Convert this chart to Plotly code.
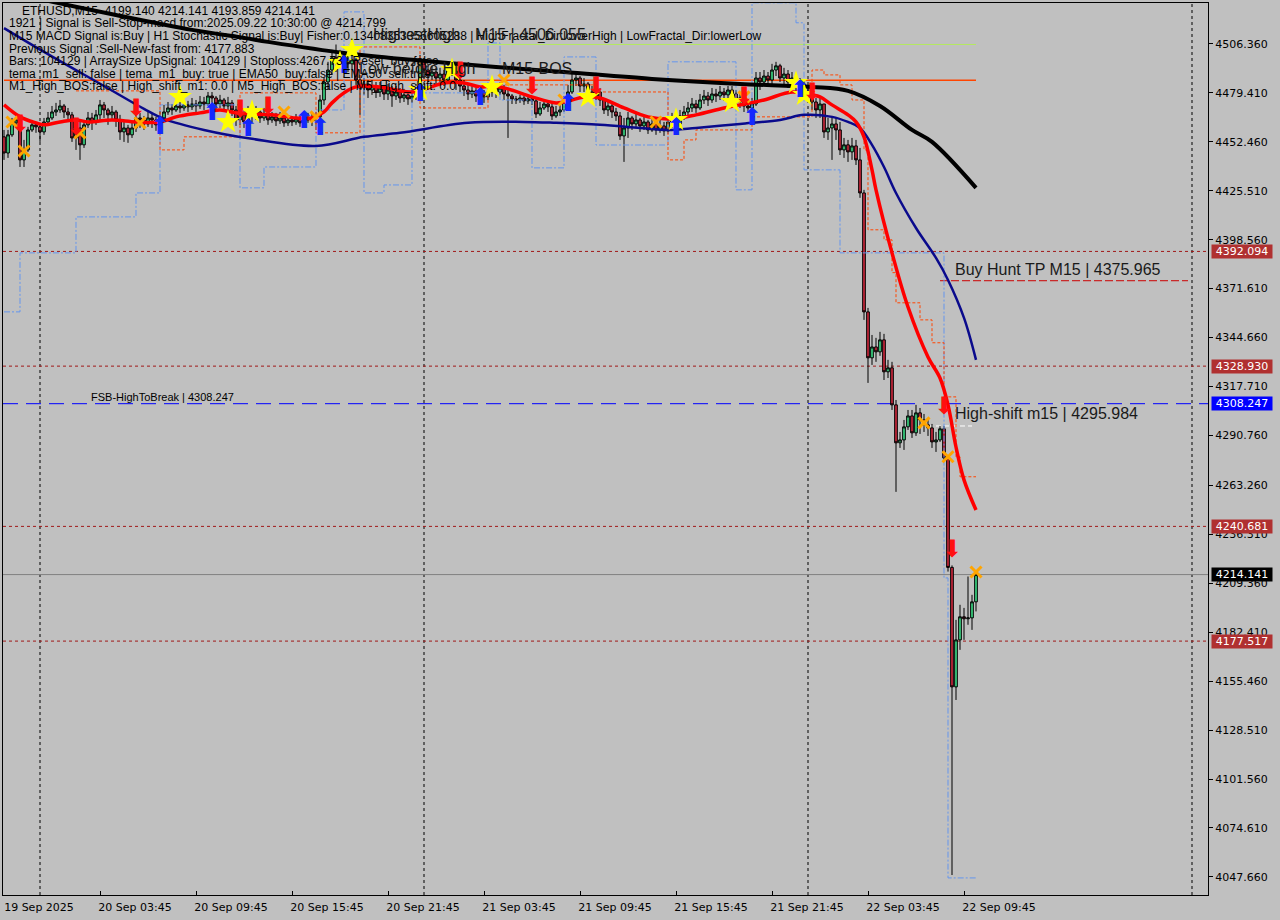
import pandas as pd
import plotly.graph_objects as go

# ---------------- data ----------------
symbol_title = "ETHUSD,M15  4199.140 4214.141 4193.859 4214.141"
t0 = pd.Timestamp("2025-09-19 21:45")
bar = pd.Timedelta(minutes=15)
n_bars = 244
times = [t0 + bar * i for i in range(n_bars)]

first_open = 4455.2
close = [
4446.3, 4456.3, 4462.9, 4464.5, 4442.5, 4448.0, 4459.0, 4461.8, 4460.7, 4457.9,
4463.4, 4465.6, 4468.9, 4470.0, 4472.2, 4468.9, 4467.3, 4454.6, 4460.1, 4450.8,
4461.8, 4465.6, 4463.4, 4467.3, 4472.8, 4470.0, 4467.3, 4468.9, 4464.5, 4457.9,
4460.1, 4456.3, 4460.1, 4465.6, 4464.5, 4462.3, 4465.6, 4464.5, 4461.8, 4465.6,
4468.9, 4471.1, 4470.0, 4472.2, 4471.1, 4472.8, 4471.7, 4473.3, 4472.2, 4474.4,
4473.3, 4477.7, 4476.6, 4473.3, 4475.5, 4472.2, 4473.9, 4470.0, 4464.5, 4467.3,
4463.4, 4468.9, 4466.7, 4468.9, 4465.6, 4467.8, 4464.5, 4466.2, 4464.0, 4465.6,
4462.9, 4464.5, 4463.4, 4465.1, 4462.9, 4464.5, 4465.6, 4464.0, 4466.2, 4475.5,
4485.4, 4492.0, 4498.7, 4496.5, 4499.8, 4497.6, 4495.4, 4497.6, 4486.5, 4482.1,
4484.3, 4481.0, 4483.2, 4479.9, 4482.1, 4478.8, 4481.0, 4477.7, 4479.9, 4476.6,
4478.3, 4476.1, 4477.7, 4481.0, 4497.6, 4492.0, 4488.7, 4490.9, 4487.6, 4489.8,
4486.5, 4492.0, 4494.3, 4486.5, 4483.2, 4481.0, 4478.8, 4480.5, 4477.7, 4479.4,
4477.2, 4479.9, 4482.1, 4479.9, 4482.1, 4478.8, 4477.7, 4476.1, 4475.5, 4476.6,
4475.0, 4476.1, 4475.0, 4467.8, 4471.1, 4473.3, 4471.7, 4466.7, 4468.9, 4470.0,
4474.4, 4479.9, 4486.5, 4487.6, 4483.2, 4484.3, 4479.9, 4477.7, 4479.9, 4475.5,
4470.0, 4472.2, 4468.9, 4466.7, 4455.7, 4460.1, 4465.6, 4462.3, 4464.5, 4461.2,
4463.4, 4459.0, 4462.3, 4459.0, 4461.2, 4458.5, 4463.4, 4464.5, 4462.3, 4466.7,
4468.9, 4471.1, 4473.3, 4471.1, 4475.5, 4477.7, 4475.5, 4478.8, 4477.7, 4479.9,
4478.3, 4481.0, 4478.8, 4474.4, 4476.6, 4472.2, 4471.1, 4473.3, 4487.6, 4485.4,
4488.7, 4486.5, 4492.0, 4494.3, 4487.6, 4489.8, 4485.4, 4487.6, 4483.2, 4484.3,
4479.9, 4477.7, 4474.4, 4470.0, 4473.3, 4457.9, 4460.1, 4462.3, 4459.0, 4448.0,
4450.8, 4446.9, 4450.2, 4442.5, 4424.3, 4358.8, 4333.5, 4339.5, 4336.8, 4343.4,
4325.8, 4328.0, 4307.6, 4286.7, 4288.3, 4295.5, 4301.5, 4292.2, 4303.2, 4299.3,
4296.6, 4294.9, 4287.2, 4288.3, 4294.4, 4278.4, 4218.1, 4152.3, 4178.2, 4190.9,
4189.8, 4190.3, 4199.14, 4214.141,
]
high = [
4459.0, 4459.0, 4465.6, 4466.2, 4464.5, 4453.5, 4460.7, 4464.5, 4463.4, 4461.8,
4465.6, 4468.9, 4472.2, 4473.9, 4475.5, 4473.3, 4471.1, 4468.9, 4464.5, 4463.4,
4464.5, 4468.9, 4468.4, 4470.0, 4475.5, 4474.4, 4471.1, 4472.2, 4470.0, 4467.3,
4464.5, 4461.8, 4463.4, 4468.9, 4468.4, 4466.7, 4468.9, 4467.8, 4466.2, 4469.5,
4472.8, 4474.4, 4473.3, 4475.5, 4474.4, 4475.5, 4475.0, 4476.6, 4475.5, 4477.7,
4477.2, 4479.9, 4479.9, 4477.7, 4478.3, 4476.6, 4477.2, 4475.5, 4472.2, 4471.1,
4470.0, 4472.2, 4471.1, 4472.2, 4470.6, 4471.1, 4470.0, 4468.9, 4468.4, 4468.9,
4467.3, 4466.7, 4466.2, 4467.8, 4466.7, 4467.3, 4468.4, 4467.8, 4468.9, 4478.3,
4487.6, 4496.5, 4503.1, 4506.055, 4503.1, 4502.0, 4500.9, 4502.0, 4498.7, 4489.3,
4487.6, 4486.5, 4486.5, 4485.4, 4485.4, 4483.8, 4484.3, 4483.2, 4483.2, 4482.1,
4481.6, 4479.9, 4481.0, 4484.3, 4500.3, 4498.7, 4494.3, 4494.3, 4493.2, 4493.2,
4492.0, 4495.4, 4496.5, 4495.4, 4490.9, 4486.5, 4483.8, 4483.2, 4482.1, 4482.1,
4481.0, 4483.2, 4485.4, 4484.3, 4485.4, 4483.8, 4482.1, 4478.8, 4477.7, 4478.3,
4477.7, 4478.3, 4477.7, 4476.6, 4474.4, 4475.5, 4475.0, 4473.9, 4472.2, 4472.8,
4477.7, 4483.8, 4489.8, 4490.9, 4488.7, 4487.6, 4485.4, 4483.2, 4483.2, 4482.1,
4476.6, 4475.5, 4473.9, 4471.1, 4468.9, 4465.6, 4468.9, 4466.7, 4467.8, 4465.6,
4466.7, 4464.5, 4465.6, 4464.0, 4464.5, 4463.4, 4466.7, 4468.4, 4466.7, 4470.0,
4472.2, 4474.4, 4476.6, 4475.5, 4478.8, 4481.0, 4479.9, 4482.1, 4481.6, 4483.2,
4482.1, 4483.2, 4483.2, 4481.0, 4479.9, 4478.3, 4475.5, 4476.6, 4490.9, 4490.9,
4492.0, 4490.9, 4495.4, 4496.5, 4495.4, 4493.2, 4492.0, 4490.9, 4489.8, 4487.6,
4486.5, 4483.2, 4479.9, 4476.6, 4476.6, 4473.3, 4465.6, 4466.7, 4465.6, 4463.4,
4454.6, 4453.5, 4454.6, 4453.5, 4449.1, 4426.0, 4361.0, 4346.1, 4344.5, 4347.8,
4346.7, 4332.4, 4331.3, 4310.3, 4292.7, 4299.3, 4304.8, 4304.8, 4307.6, 4305.9,
4302.6, 4299.3, 4297.1, 4292.7, 4296.0, 4296.0, 4279.5, 4219.2, 4189.2, 4197.5,
4195.8, 4213.1, 4203.0, 4214.141,
]
low = [
4442.5, 4443.6, 4455.2, 4460.7, 4438.6, 4438.6, 4446.9, 4457.9, 4457.4, 4452.4,
4456.3, 4461.8, 4464.5, 4466.7, 4468.4, 4465.6, 4463.4, 4452.4, 4448.0, 4442.5,
4449.1, 4460.1, 4459.0, 4461.8, 4464.5, 4465.6, 4461.8, 4464.5, 4460.7, 4453.5,
4452.4, 4451.9, 4454.6, 4457.9, 4460.1, 4459.0, 4460.7, 4460.1, 4458.5, 4460.1,
4464.5, 4467.3, 4467.3, 4468.9, 4468.4, 4469.5, 4468.9, 4470.0, 4468.9, 4470.6,
4470.0, 4472.2, 4472.8, 4470.0, 4471.1, 4468.9, 4470.0, 4466.7, 4461.2, 4461.8,
4460.1, 4463.4, 4463.4, 4464.5, 4462.9, 4464.0, 4461.8, 4462.9, 4461.2, 4462.3,
4460.7, 4461.2, 4461.2, 4461.8, 4460.7, 4461.8, 4462.9, 4461.2, 4459.0, 4464.5,
4472.8, 4481.0, 4489.3, 4490.9, 4493.2, 4494.3, 4490.9, 4492.0, 4483.8, 4467.3,
4478.3, 4476.6, 4478.3, 4476.6, 4477.2, 4475.5, 4475.5, 4471.7, 4475.5, 4473.9,
4474.4, 4472.8, 4473.9, 4475.5, 4479.9, 4487.6, 4485.4, 4486.5, 4484.3, 4485.4,
4483.2, 4484.3, 4488.7, 4481.0, 4479.9, 4477.7, 4475.5, 4476.6, 4474.4, 4475.5,
4473.9, 4475.5, 4477.2, 4476.6, 4478.3, 4475.5, 4454.6, 4473.3, 4473.3, 4473.9,
4472.8, 4473.3, 4472.8, 4465.6, 4466.7, 4470.0, 4468.9, 4464.5, 4465.6, 4466.7,
4468.9, 4473.3, 4478.8, 4483.2, 4479.9, 4479.9, 4476.6, 4474.4, 4475.5, 4472.2,
4467.8, 4466.7, 4465.6, 4464.0, 4453.5, 4441.4, 4454.6, 4459.0, 4460.1, 4457.9,
4459.0, 4456.8, 4457.9, 4456.3, 4457.4, 4455.7, 4456.8, 4460.1, 4459.0, 4460.7,
4464.5, 4466.7, 4468.9, 4468.4, 4470.0, 4473.3, 4472.2, 4473.9, 4474.4, 4475.5,
4475.0, 4476.6, 4475.5, 4471.1, 4471.1, 4468.9, 4468.4, 4468.9, 4472.2, 4481.0,
4483.2, 4483.8, 4484.3, 4488.7, 4485.4, 4484.3, 4482.1, 4481.0, 4479.9, 4478.8,
4476.6, 4475.5, 4470.0, 4465.6, 4465.6, 4454.6, 4453.5, 4442.5, 4453.5, 4445.2,
4443.6, 4441.4, 4442.5, 4439.7, 4421.6, 4354.4, 4319.7, 4329.6, 4331.3, 4334.6,
4321.3, 4322.4, 4304.8, 4259.7, 4283.9, 4282.8, 4293.8, 4289.4, 4290.5, 4291.6,
4292.7, 4290.5, 4283.9, 4281.7, 4287.2, 4276.2, 4215.8, 4048.7, 4145.1, 4172.7,
4178.2, 4186.5, 4183.7, 4193.859,
]

# indicator lines: (bar index, value) samples
ma_slow_idx = [0, 10, 28, 47, 60, 66, 85, 102, 123, 140, 162, 184, 202, 211, 219, 227, 232, 243]
ma_slow_val = [4536.0, 4530.6, 4522.3, 4514.1, 4509.7, 4507.5, 4501.4, 4497.6, 4493.7, 4490.9,
               4487.1, 4484.3, 4482.7, 4480.5, 4472.2, 4459.0, 4452.4, 4427.1]
ma_mid_idx = [0, 10, 25, 35, 40, 50, 62, 78, 90, 99, 116, 130, 138, 149, 159, 166, 173, 184,
              194, 200, 207, 211, 214, 217, 220, 223, 228, 233, 236, 240, 243]
ma_mid_val = [4515.1, 4502.0, 4483.2, 4470.6, 4465.1, 4459.0, 4454.1, 4450.2, 4455.2, 4457.4,
              4462.9, 4463.4, 4462.9, 4461.8, 4460.1, 4459.0, 4460.1, 4462.3, 4464.5, 4467.3,
              4466.2, 4463.4, 4460.1, 4450.8, 4438.6, 4424.3, 4405.0, 4388.5, 4376.4, 4355.5, 4332.4]
tema_idx = [0, 4, 8, 10, 14, 18, 21, 27, 33, 39, 43, 49, 54, 58, 62, 67, 73, 77, 80, 82, 85,
            88, 94, 98, 102, 106, 110, 115, 119, 122, 126, 132, 138, 142, 145, 149, 155, 161,
            167, 173, 180, 184, 190, 197, 202, 204, 207, 211, 213, 215, 217, 218, 222, 226,
            231, 234, 236, 238, 240, 243]
tema_val = [4472.8, 4466.2, 4462.9, 4461.8, 4463.4, 4464.5, 4463.4, 4464.5, 4463.4, 4463.4,
            4466.2, 4468.4, 4470.0, 4468.4, 4467.8, 4467.3, 4465.6, 4465.6, 4468.9, 4473.9,
            4479.4, 4482.7, 4482.7, 4481.0, 4479.9, 4482.1, 4484.9, 4484.9, 4482.7, 4483.2,
            4481.6, 4477.2, 4473.9, 4475.5, 4477.2, 4476.6, 4471.1, 4466.2, 4465.1, 4467.3,
            4471.1, 4472.8, 4475.5, 4479.9, 4478.3, 4477.2, 4472.8, 4467.3, 4463.4, 4455.2,
            4437.0, 4426.0, 4391.3, 4361.5, 4334.0, 4322.4, 4307.6, 4284.4, 4266.3, 4249.7]

# step levels (dashed)
band_orange_idx = [18, 39, 45, 59, 78, 89, 104, 121, 148, 166, 170, 173, 187, 202, 205, 209,
                   212, 215, 216, 220, 222, 223, 229, 232, 235, 238, 239, 243]
band_orange_val = [4480.5, 4448.0, 4455.2, 4479.4, 4457.4, 4504.7, 4471.1, 4483.8, 4479.9,
                   4442.5, 4453.5, 4459.0, 4466.2, 4492.0, 4489.3, 4483.8, 4475.5, 4448.0,
                   4404.0, 4398.5, 4380.4, 4363.8, 4354.4, 4341.8, 4312.0, 4279.0, 4268.0, 4268.0]
band_blue_idx = [0, 4, 18, 33, 39, 59, 65, 78, 85, 90, 95, 102, 121, 124, 132, 140, 148, 166,
                 183, 187, 198, 200, 209, 235, 236, 243]
band_blue_val = [4358.8, 4391.3, 4411.1, 4424.3, 4472.8, 4427.1, 4438.6, 4470.0, 4524.0,
                 4424.3, 4428.7, 4479.4, 4506.9, 4475.5, 4438.1, 4499.2, 4450.7, 4496.5,
                 4426.0, 4529.0, 4518.0, 4437.0, 4391.3, 4212.3, 4047.1, 4047.1]

# signal markers (bar index, price)
star_idx = [44, 56, 62, 84, 87, 104, 112, 122, 146, 168, 182, 198, 200]
star_val = [4477.2, 4463.4, 4468.9, 4495.9, 4503.1, 4481.0, 4492.0, 4482.7, 4477.2, 4464.5,
            4474.4, 4484.9, 4478.3]
up_idx = [39, 52, 61, 75, 79, 85, 104, 119, 141, 168, 187, 199]
up_val = [4460.1, 4467.8, 4459.0, 4463.4, 4459.6, 4493.7, 4478.3, 4476.1, 4472.8, 4459.6,
          4465.1, 4480.5]
down_idx = [4, 18, 33, 59, 66, 114, 132, 148, 185, 202, 235, 237]
down_val = [4461.2, 4459.6, 4470.0, 4469.5, 4471.1, 4490.4, 4482.1, 4482.1, 4476.6, 4478.8,
            4305.9, 4227.2]
cross_idx = [2, 5, 19, 34, 70, 78, 125, 140, 163, 185, 230, 236, 243]
cross_val = [4463.4, 4447.4, 4457.4, 4462.9, 4468.9, 4466.2, 4486.5, 4475.5, 4463.4, 4477.2,
             4297.7, 4279.0, 4215.6]

# horizontal levels
red_levels = [4392.094, 4328.930, 4240.681, 4177.517]
fsb_level = 4308.247
bid_level = 4214.141
highest_high = 4506.055
low_before_high = 4486.3
buy_hunt_tp = 4375.965
high_shift = 4295.984

# axes
y_ticks = [4506.360, 4479.410, 4452.460, 4425.510, 4398.560, 4371.610, 4344.660, 4317.710,
           4290.760, 4263.260, 4236.310, 4209.360, 4182.410, 4155.460, 4128.510, 4101.560,
           4074.610, 4047.660]
x_tick_times = ["2025-09-19 21:45", "2025-09-20 03:45", "2025-09-20 09:45", "2025-09-20 15:45",
                "2025-09-20 21:45", "2025-09-21 03:45", "2025-09-21 09:45", "2025-09-21 15:45",
                "2025-09-21 21:45", "2025-09-22 03:45", "2025-09-22 09:45"]
x_tick_text = ["19 Sep 2025", "20 Sep 03:45", "20 Sep 09:45", "20 Sep 15:45", "20 Sep 21:45",
               "21 Sep 03:45", "21 Sep 09:45", "21 Sep 15:45", "21 Sep 21:45", "22 Sep 03:45",
               "22 Sep 09:45"]
day_separators = ["2025-09-20 00:00", "2025-09-21 00:00", "2025-09-22 00:00", "2025-09-23 00:00"]
tp_line_end = "2025-09-22 23:45"

info_lines = [
    symbol_title,
    "1921 | Signal is Sell-Stop-macd from:2025.09.22 10:30:00 @ 4214.799",
    "M15 MACD Signal is:Buy | H1 Stochastic Signal is:Buy| Fisher:0.13408353356605288 | HighFractal_Dir:lowerHigh | LowFractal_Dir:lowerLow",
    "Previous Signal :Sell-New-fast from: 4177.883",
    "Bars: 104129 | ArraySize UpSignal: 104129 | Stoploss:4267.73 | Reset_buy:false",
    "tema_m1_sell: false | tema_m1_buy: true | EMA50_buy:false | EMA50_sell:true",
    "M1_High_BOS:false | High_shift_m1: 0.0 | M5_High_BOS:false | M5_High_shift: 0.0",
]

# ---------------- figure ----------------
opens = [first_open] + close[:-1]
highs = [max(h, o, c) for h, o, c in zip(high, opens, close)]
lows = [min(l, o, c) for l, o, c in zip(low, opens, close)]

BG = "#c0c0c0"
W, H = 1280, 920
ML, MR, MT, MB = 3, 72, 3, 25
PW, PH = W - ML - MR, H - MT - MB


def px(xp):
    return (xp - ML) / PW


def py(yp):
    return (H - MB - yp) / PH


def T(idx):
    return [times[i] for i in idx]


fig = go.Figure()

# step levels
fig.add_trace(go.Scatter(x=T(band_blue_idx), y=band_blue_val, mode="lines", line_shape="hv",
                         line=dict(color="#6495ed", width=1, dash="6px,2px,2px,2px"),
                         hoverinfo="skip", showlegend=False))
fig.add_trace(go.Scatter(x=T(band_orange_idx), y=band_orange_val, mode="lines", line_shape="hv",
                         line=dict(color="#ff4500", width=1, dash="3px,2px"),
                         hoverinfo="skip", showlegend=False))

# candles
fig.add_trace(go.Candlestick(
    x=times, open=opens, high=highs, low=lows, close=close,
    increasing=dict(line=dict(color="black", width=1), fillcolor="#3cd683"),
    decreasing=dict(line=dict(color="black", width=1), fillcolor="#c8283c"),
    whiskerwidth=0, hoverinfo="skip", showlegend=False))

# moving averages
fig.add_trace(go.Scatter(x=T(ma_slow_idx), y=ma_slow_val, mode="lines", line_shape="spline",
                         line=dict(color="black", width=4), hoverinfo="skip", showlegend=False))
fig.add_trace(go.Scatter(x=T(ma_mid_idx), y=ma_mid_val, mode="lines", line_shape="spline",
                         line=dict(color="#0a0a8c", width=2.5), hoverinfo="skip", showlegend=False))
fig.add_trace(go.Scatter(x=T(tema_idx), y=tema_val, mode="lines", line_shape="spline",
                         line=dict(color="#ff0000", width=3.5), hoverinfo="skip", showlegend=False))

# markers
fig.add_trace(go.Scatter(x=T(cross_idx), y=cross_val, mode="markers",
                         marker=dict(symbol="x-thin", size=11, line=dict(color="#ffa500", width=3)),
                         hoverinfo="skip", showlegend=False))
fig.add_trace(go.Scatter(x=T(star_idx), y=star_val, mode="markers",
                         marker=dict(symbol="star", size=18, color="#ffff00", line=dict(width=0)),
                         hoverinfo="skip", showlegend=False))
fig.add_trace(go.Scatter(x=T(up_idx), y=up_val, mode="text", text=["\u2b06"] * len(up_idx),
                         textposition="middle center",
                         textfont=dict(family="DejaVu Sans", size=24, color="#1428ff"),
                         hoverinfo="skip", showlegend=False))
fig.add_trace(go.Scatter(x=T(down_idx), y=down_val, mode="text", text=["\u2b07"] * len(down_idx),
                         textposition="middle center",
                         textfont=dict(family="DejaVu Sans", size=24, color="#ff1010"),
                         hoverinfo="skip", showlegend=False))

shapes = []
for d in day_separators:
    shapes.append(dict(type="line", xref="x", yref="paper", x0=d, x1=d, y0=0, y1=1,
                       line=dict(color="black", width=1, dash="3px,3px"), layer="below"))
for lv in red_levels:
    shapes.append(dict(type="line", xref="paper", yref="y", x0=0, x1=1, y0=lv, y1=lv,
                       line=dict(color="#a01818", width=1, dash="3px,3px"), layer="below"))
shapes.append(dict(type="line", xref="paper", yref="y", x0=0, x1=1, y0=fsb_level, y1=fsb_level,
                   line=dict(color="#0000ff", width=1, dash="15px,8px"), layer="below"))
shapes.append(dict(type="line", xref="paper", yref="y", x0=0, x1=1, y0=bid_level, y1=bid_level,
                   line=dict(color="#808080", width=1), layer="below"))
shapes.append(dict(type="line", xref="x", yref="y", x0=times[86], x1=times[243],
                   y0=highest_high, y1=highest_high, line=dict(color="#b4e860", width=1), layer="below"))
shapes.append(dict(type="line", xref="x", yref="y", x0=times[0], x1=times[243],
                   y0=low_before_high, y1=low_before_high, line=dict(color="#ff4500", width=1.5), layer="below"))
shapes.append(dict(type="line", xref="x", yref="y", x0=times[234], x1=tp_line_end,
                   y0=buy_hunt_tp, y1=buy_hunt_tp, line=dict(color="#cc0000", width=1, dash="8px,3px"),
                   layer="below"))
shapes.append(dict(type="line", xref="x", yref="y", x0=times[229], x1=times[242],
                   y0=high_shift, y1=high_shift, line=dict(color="white", width=1, dash="5px,3px"),
                   layer="below"))

ann = []
for k, line in enumerate(info_lines):
    ann.append(dict(text=line, xref="paper", yref="paper", x=px(20 if k == 0 else 7), y=py(11 + 12.5 * k),
                    xanchor="left", yanchor="middle", showarrow=False,
                    font=dict(family="Liberation Sans", size=12, color="black")))

big = dict(family="Liberation Sans", size=16, color="#1a1a1a")
for txt, xp, yp in [("HighestHigh", 371, 34), ("M15 | 4506.055", 473, 34),
                    ("Low before High", 357, 68), ("M15-BOS", 500, 68),
                    ("Buy Hunt TP M15 | %.3f" % buy_hunt_tp, 953, 269),
                    ("High-shift m15 | %.3f" % high_shift, 953, 413)]:
    ann.append(dict(text=txt, xref="paper", yref="paper", x=px(xp), y=py(yp), xanchor="left",
                    yanchor="middle", showarrow=False, font=big))
ann.append(dict(text="FSB-HighToBreak | %.3f" % fsb_level, xref="paper", yref="paper", x=px(89),
                y=py(397), xanchor="left", yanchor="middle", showarrow=False,
                font=dict(family="Liberation Sans", size=11, color="black")))

# price boxes on the right axis
for lv, bg in [(red_levels[0], "#b03030"), (red_levels[1], "#b03030"), (fsb_level, "#0000ff"),
               (red_levels[2], "#b03030"), (bid_level, "#000000"), (red_levels[3], "#b03030")]:
    ann.append(dict(text="%.3f" % lv, xref="paper", yref="y", x=1, y=lv, xanchor="left",
                    yanchor="middle", xshift=3, showarrow=False, bgcolor=bg, width=60, height=13,
                    borderpad=0, font=dict(family="DejaVu Sans", size=11, color="white")))

x_start = t0 - 0.25 * bar
x_end = t0 + 301.0 * bar

fig.update_layout(
    width=W, height=H, margin=dict(l=ML, r=MR, t=MT, b=MB),
    paper_bgcolor=BG, plot_bgcolor=BG, showlegend=False, boxgap=0.05,
    shapes=shapes, annotations=ann,
    xaxis=dict(type="date", range=[x_start, x_end], rangeslider=dict(visible=False),
               showgrid=False, zeroline=False, showline=True, linecolor="black", linewidth=1,
               mirror=True, tickvals=[pd.Timestamp(t) for t in x_tick_times], ticktext=x_tick_text,
               ticks="inside", ticklen=4, tickcolor="black", ticklabelshift=35, ticklabelstandoff=2,
               tickfont=dict(family="DejaVu Sans", size=11, color="black")),
    yaxis=dict(side="right", range=[4037.7, 4528.9], showgrid=False, zeroline=False,
               showline=True, linecolor="black", linewidth=1, mirror=True,
               tickvals=y_ticks, ticktext=["%.3f" % v for v in y_ticks],
               ticks="outside", ticklen=4, tickcolor="black",
               tickfont=dict(family="DejaVu Sans", size=11, color="black")),
)

fig.write_html("out.html", config={"displayModeBar": False},
               post_script="document.body.style.margin='0';")
